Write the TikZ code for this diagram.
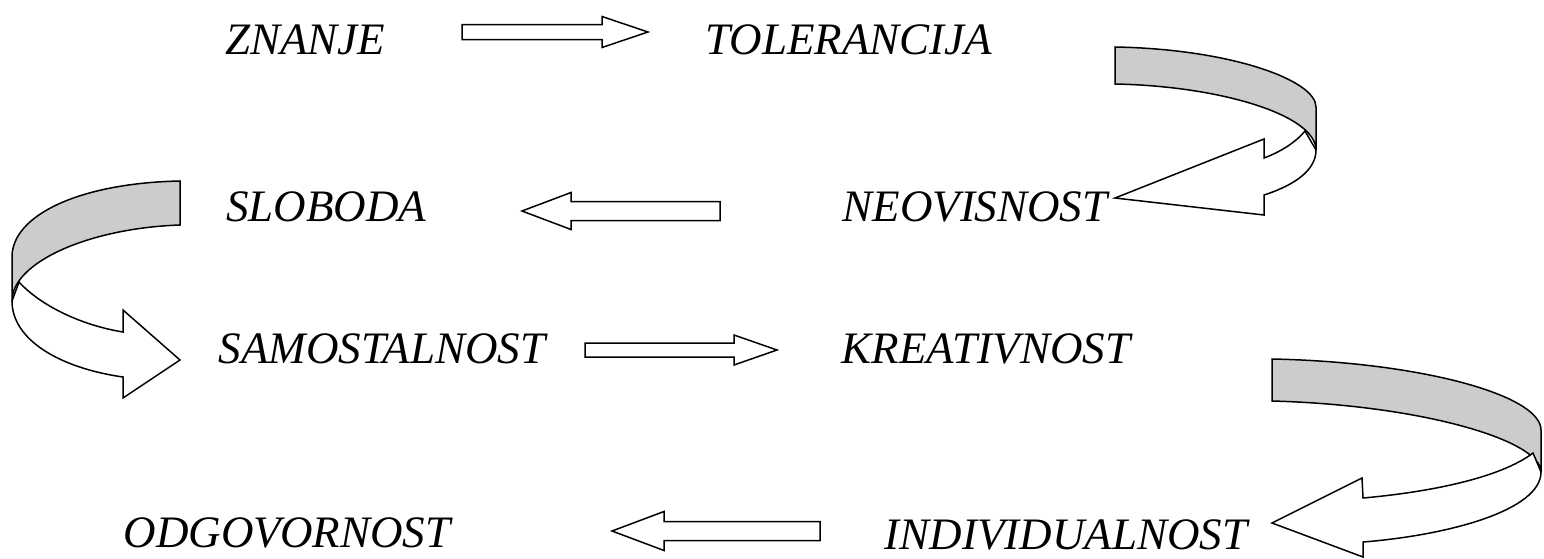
\documentclass[tikz,border=0pt]{standalone}
\usepackage{fontspec}
\setmainfont{Liberation Serif}
\usetikzlibrary{calc}
\tikzset{ w/.style = { rectangle % word
        , inner sep = 0pt
        , anchor = base
        , font = \fontsize{45}{48}\selectfont\itshape
        }
        , back/.style = { draw % inner side of a ribbon
        , fill = gray!40
        , line width = 1.5pt
        }
        , front/.style = { draw % outer side of a ribbon
        , fill = white
        , line width = 1.5pt
        }
        }

\begin{document}
\begin{tikzpicture}[x=1pt, y=-1pt,
        block_arrow_style/.style n args={3}{draw, fill=white, line width=1.5pt,
          to path={($(\tikztostart)!#1!90:(\tikztotarget)$)
            -- ($($(\tikztotarget)!#3!(\tikztostart)$)!#1!90:(\tikztotarget)$)
            -- ($($(\tikztotarget)!#3!(\tikztostart)$)!#2!90:(\tikztotarget)$)
            -- (\tikztotarget)
            -- ($($(\tikztotarget)!#3!(\tikztostart)$)!#2!-90:(\tikztotarget)$)
            -- ($($(\tikztotarget)!#3!(\tikztostart)$)!#1!-90:(\tikztotarget)$)
            -- ($(\tikztostart)!#1!-90:(\tikztotarget)$) -- cycle}}]
        \useasboundingbox (0,0) rectangle (1544,558);

        \node [w](znanje) at (305,54) {ZNANJE};
        \node [w](tolerancija) at (849,54) {TOLERANCIJA};
        \node [w](sloboda) at (326,221) {SLOBODA};
        \node [w](neovisnost) at (975,221) {NEOVISNOST};
        \node [w](samostalnost) at (382,363) {SAMOSTALNOST};
        \node [w](kreativnost) at (986,363) {KREATIVNOST};
        \node [w](odgovornost) at (287,547) {ODGOVORNOST};
        \node [w](individualnost) at (1066,549) {INDIVIDUALNOST};

        \coordinate (a1s) at (462,32);  \coordinate (a1e) at (648,32);
        \coordinate (a2s) at (720,211); \coordinate (a2e) at (522,211);
        \coordinate (a3s) at (585,350); \coordinate (a3e) at (777,350);
        \coordinate (a4s) at (820,531); \coordinate (a4e) at (612,531);
        \draw [block_arrow_style={7.5pt}{15.5pt}{46pt}] (a1s) to (a1e);
        \draw [block_arrow_style={9.5pt}{18.5pt}{49pt}] (a2s) to (a2e);
        \draw [block_arrow_style={7pt}{15pt}{43pt}] (a3s) to (a3e);
        \draw [block_arrow_style={9.5pt}{19.5pt}{52pt}] (a4s) to (a4e);

        % tolerancija -> neovisnost
        \draw [back] (1115,47) .. controls (1230,49) and (1316,80) .. (1316,107) -- (1316,150)
            .. controls (1316,115) and (1220,86) .. (1115,84) -- cycle;
        \draw [front] (1305,131) .. controls (1295,143) and (1280,152) .. (1264,158) -- (1264,139)
            -- (1115,198) -- (1264,215) -- (1264,195)
            .. controls (1295,185) and (1316,170) .. (1316,150) -- cycle;
        % sloboda -> samostalnost
        \draw [back] (180,181) .. controls (80,183) and (12,215) .. (12,257) -- (12,301)
            .. controls (12,262) and (90,228) .. (180,225) -- cycle;
        \draw [front] (19,282) .. controls (40,305) and (80,325) .. (123,332) -- (123,310)
            -- (180,360) -- (123,398) -- (123,377)
            .. controls (60,368) and (12,340) .. (12,301) -- cycle;
        % kreativnost -> individualnost
        \draw [back] (1272,359) .. controls (1420,362) and (1541,395) .. (1541,430) -- (1541,472)
            .. controls (1541,440) and (1420,405) .. (1272,401) -- cycle;
        \draw [front] (1533,453) .. controls (1500,478) and (1430,492) .. (1363,498) -- (1362,478)
            -- (1272,523) -- (1363,557) -- (1363,542)
            .. controls (1450,535) and (1541,510) .. (1541,472) -- cycle;

\end{tikzpicture}
\end{document}
